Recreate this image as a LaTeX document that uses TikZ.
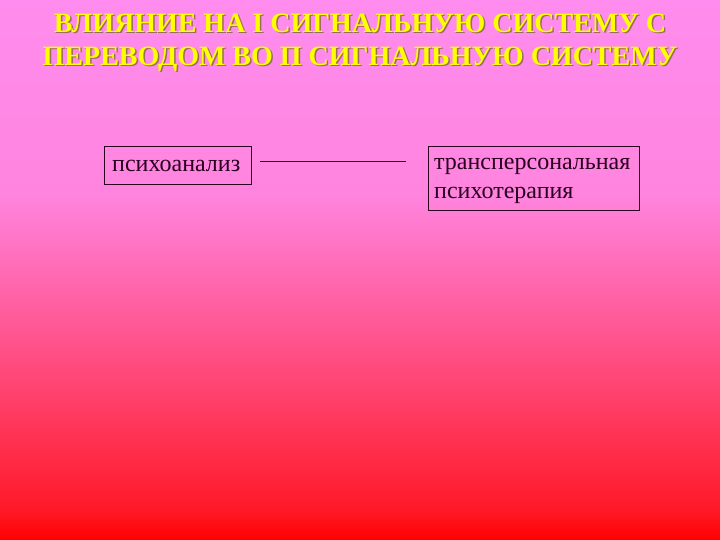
\documentclass[tikz,border=0pt]{standalone}
\usepackage{fontspec}
\setmainfont{Liberation Serif}
\definecolor{ink}{RGB}{40,0,30}
\definecolor{titley}{RGB}{255,255,0}
\definecolor{shadowc}{RGB}{150,110,90}
\definecolor{bgA}{RGB}{255,0,0}
\definecolor{bgB}{RGB}{255,25,40}
\definecolor{bgC}{RGB}{255,80,135}
\definecolor{bgD}{RGB}{255,132,222}
\definecolor{bgE}{RGB}{255,140,238}
\pgfdeclareverticalshading{bgshade}{100bp}{
  color(0bp)=(bgA);
  color(25bp)=(bgA);
  color(27.8bp)=(bgB);
  color(42.6bp)=(bgC);
  color(56.9bp)=(bgD);
  color(75bp)=(bgE);
  color(100bp)=(bgE)}
\begin{document}
\begin{tikzpicture}[x=1pt,y=-1pt,
  box/.style={draw=ink,line width=0.8pt,inner sep=0pt,anchor=north west},
  lbl/.style={text=ink,font=\fontsize{24}{29}\selectfont,inner sep=0pt,align=left},
  ttl/.style={font=\bfseries\fontsize{28}{33}\selectfont,align=center}]
\shade[shading=bgshade] (0,0) rectangle (720,540);
\useasboundingbox (0,0) rectangle (720,540);
\node[ttl,text=shadowc] (tsh) at (361.5,44) {ВЛИЯНИЕ НА I СИГНАЛЬНУЮ СИСТЕМУ С\\ПЕРЕВОДОМ ВО П СИГНАЛЬНУЮ СИСТЕМУ};
\node[ttl,text=titley] (title) at (360,42.5) {ВЛИЯНИЕ НА I СИГНАЛЬНУЮ СИСТЕМУ С\\ПЕРЕВОДОМ ВО П СИГНАЛЬНУЮ СИСТЕМУ};
\node[box,minimum width=147pt,minimum height=38pt] (a) at (104,146) {};
\node[lbl,anchor=west] (at) at (112,166) {психоанализ};
\node[box,minimum width=211pt,minimum height=64pt] (b) at (428,146) {};
\node[lbl,anchor=north west] (bt) at (434,158) {трансперсональная\\психотерапия};
\coordinate (l1) at (260,161);
\coordinate (l2) at (406,161);
\draw[ink,line width=0.8pt] (l1) -- (l2);
\end{tikzpicture}
\end{document}
